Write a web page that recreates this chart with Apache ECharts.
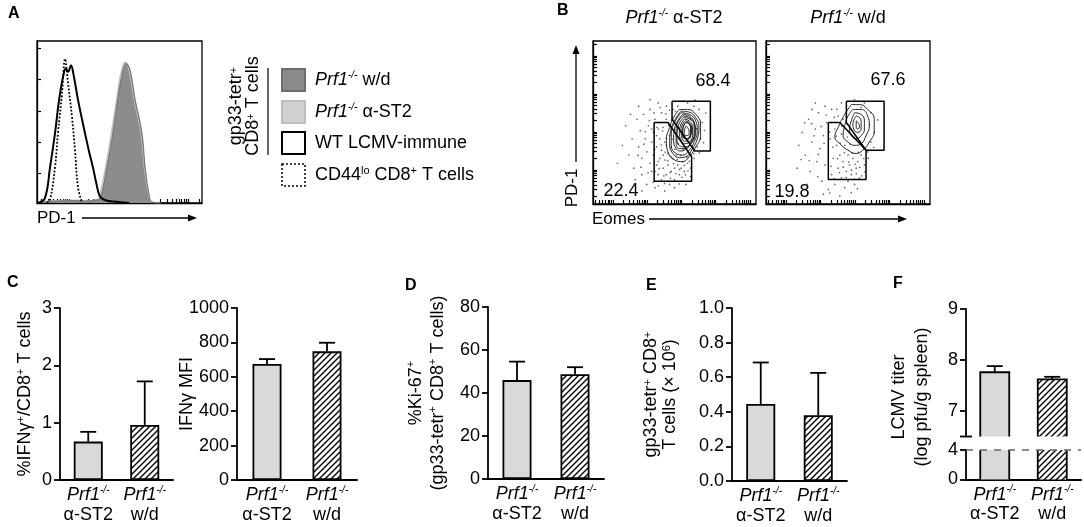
<!DOCTYPE html>
<html>
<head>
<meta charset="utf-8">
<script src="https://cdn.jsdelivr.net/npm/echarts@6/dist/echarts.min.js"></script>
<style>
html, body { margin: 0; padding: 0; background: #fff; }
#main { width: 1084px; height: 527px; }
</style>
</head>
<body>
<div id="main"></div>
<script>
/* ---- data ---- */
var groups = ['α-ST2', 'w/d'];

// C: IFNγ
var ifnPct = [0.67, 0.96];
var ifnPctSem = [0.17, 0.76];
var ifnMfi = [674, 748];
var ifnMfiSem = [29, 50];
// D: Ki-67
var ki67 = [46, 48.7];
var ki67Sem = [8.6, 3.3];
// E: gp33-tetr+ cell numbers (x 10^6)
var tetrCells = [0.445, 0.38];
var tetrCellsSem = [0.24, 0.245];
// F: LCMV titer (log pfu/g)
var lcmvTiter = [7.76, 7.62];
var lcmvTiterSem = [0.12, 0.05];
var lcmvLimit = 4;

// A: PD-1 histograms, [channel, % of max]
var histWd = [[3, 0.5], [12, 1.2], [22, 1.5], [30, 1.2], [36, 1.8], [38.2, 2.5], [42.4, 22], [46, 43], [49, 64], [51.5, 79], [54, 86], [56.4, 82], [59.4, 64], [63.6, 43], [65.5, 22], [67.9, 5], [69.7, 0.5], [75, 0]];
var histAst2 = [[3, 0.8], [12, 1.5], [22, 1.8], [30, 1.5], [36, 2], [37.5, 3], [41.5, 22], [45, 43], [48.2, 64], [50.8, 80], [53.3, 87], [55.5, 83], [58.8, 64], [63, 43], [65, 22], [67.6, 5], [69.5, 0.5], [75, 0]];
var histWt = [[0.6, 0], [4.8, 3], [7.9, 22], [10.9, 43], [13.3, 63], [15.8, 78], [17.5, 83], [18.8, 81], [20.6, 85], [22, 80], [24.8, 64], [27, 53], [29.1, 43], [31.5, 32], [33.9, 22], [36, 12], [38.2, 4], [42, 1.5], [48, 0.8], [56, 0]];
var histCd44lo = [[6, 0], [7.9, 2], [10.9, 22], [12.7, 43], [15.2, 68], [17, 89], [18.8, 74], [21.2, 53], [23, 33], [24.8, 10], [27.3, 0]];

// decade positions of the log-scaled cytometer axes
var decadesA = [19.4, 43.4, 67.4, 91.4];
var countTicksA = [18.5, 37.7, 56.9, 76.1, 95.3];
var decadesEomes = [12.3, 33.3, 54.3, 75.3, 96.3];
var decadesPd1 = [21, 44.3, 67.6, 90.9];

// B: Eomes x PD-1 gates and events
var gateHi1 = [[48.5, 63], [72, 63], [72, 32.5], [62.5, 32.5], [48.5, 52], [48.5, 63]];
var gateLo1 = [[37.5, 50], [46, 50], [60.5, 29], [60.5, 14], [37.5, 14], [37.5, 50]];
var gateHi2 = [[49, 63], [72, 63], [72, 33], [61, 33], [49, 50], [49, 63]];
var gateLo2 = [[38, 50], [45, 50], [61, 33], [61, 15], [38, 15], [38, 50]];
var gatePct = [['68.4', '22.4'], ['67.6', '19.8']];

var dots1 = [[20, 48], [22, 30], [24, 40], [25, 22], [27, 52], [28, 35], [29, 45], [30, 28], [30, 18], [31, 55], [32, 40], [33, 32], [33, 12], [34, 48], [35, 25], [35, 58], [36, 38], [36, 20], [37, 44], [37, 30], [38, 52], [38, 10], [39, 35], [39, 24], [40, 46], [40, 18], [41, 40], [41, 28], [42, 56], [42, 33], [42, 15], [43, 22], [43, 47], [44, 38], [44, 27], [45, 18], [45, 52], [46, 31], [46, 24], [47, 42], [47, 12], [48, 20], [48, 35], [49, 28], [49, 58], [50, 22], [50, 15], [51, 30], [52, 24], [53, 18], [54, 22], [55, 26], [56, 20], [52, 60], [58, 25], [60, 22], [62, 28], [64, 35], [66, 40], [67, 50], [65, 58], [62, 60], [58, 62], [45, 60], [40, 62], [35, 64], [28, 60], [26, 15], [30, 8], [44, 8], [50, 10], [57, 12], [23, 55], [18, 36], [15, 25], [39, 42], [41, 50], [43, 30], [45, 36], [40, 26], [38, 20], [36, 46],
  [37.8, 33.5], [39.2, 47.1], [40.6, 21.7], [41.9, 36.2], [42.7, 44.8], [43.5, 17.3], [44.2, 31.9], [45.1, 40.3], [45.8, 26.6], [46.4, 48.2], [47.3, 19.4], [47.9, 29.1], [48.6, 39.7], [49.4, 24.8], [50.2, 33.6], [50.9, 18.7], [51.7, 27.4], [52.3, 36.9], [53.1, 21.2], [53.8, 29.8], [54.6, 16.4], [55.2, 33.1], [56.1, 23.7], [56.8, 17.9], [57.6, 28.6], [58.3, 20.4], [59.1, 26.2], [59.8, 16.8], [44.6, 55.3], [46.9, 57.6], [48.1, 51.4], [50.6, 56.8], [63.4, 46.2], [65.2, 31.4], [61.7, 30.9], [67.8, 37.6], [68.4, 45.1], [69.2, 55.8], [62.5, 63.7], [55.3, 63.1], [41.2, 59.2], [37.4, 55.9], [34.6, 51.2], [32.1, 44.3], [31.2, 36.7], [29.4, 22.6], [27.6, 29.8], [33.8, 19.1], [36.9, 13.4], [40.1, 11.2], [52.8, 12.3], [47.5, 15.8], [43.9, 12.6]];
var dots2 = [[22, 44], [24, 30], [26, 52], [27, 20], [28, 38], [30, 46], [31, 26], [32, 56], [33, 34], [34, 14], [35, 42], [36, 24], [37, 50], [38, 32], [38, 9], [39, 40], [40, 18], [40, 58], [41, 28], [42, 46], [42, 12], [43, 36], [44, 22], [44, 54], [45, 30], [46, 16], [46, 43], [47, 26], [48, 10], [48, 36], [49, 20], [50, 30], [50, 14], [51, 24], [52, 18], [53, 28], [54, 12], [55, 22], [56, 26], [57, 16], [58, 30], [60, 24], [62, 32], [64, 38], [66, 44], [64, 56], [60, 62], [54, 64], [46, 62], [36, 60], [28, 58], [20, 36], [25, 12], [35, 6], [45, 5], [52, 7], [19, 22], [30, 62], [40, 50], [47, 52],
  [38.7, 44.2], [39.6, 23.1], [40.8, 34.9], [41.5, 15.6], [42.9, 41.7], [43.6, 27.8], [44.8, 19.3], [45.3, 37.4], [46.2, 47.9], [47.1, 22.6], [47.8, 31.5], [48.9, 16.2], [49.6, 41.1], [50.4, 25.7], [51.2, 36.8], [52.1, 20.9], [52.7, 31.3], [53.6, 15.1], [54.4, 24.4], [55.1, 18.6], [56.3, 31.7], [57.2, 22.5], [58.4, 17.3], [59.6, 27.9], [60.2, 19.8], [35.4, 37.2], [33.7, 47.6], [31.9, 30.4], [29.3, 41.8], [27.8, 49.3], [26.4, 26.7], [36.8, 54.6], [41.7, 53.2], [43.2, 58.1], [49.3, 57.4], [57.9, 59.3], [63.1, 48.7], [65.7, 34.8], [62.4, 28.1], [68.1, 51.6], [23.6, 49.8], [21.4, 27.3], [31.6, 16.8], [38.9, 6.9], [55.8, 9.4]];

var contours1 = [
  [[53, 58], [58, 58], [63, 55], [66, 49], [66, 42], [63, 35], [59, 29], [55, 26], [50, 27], [46, 32], [45, 39], [47, 47], [50, 54], [53, 58]],
  [[54, 57], [58.5, 56.5], [63, 53], [65, 47], [64, 40], [61, 34], [57, 29], [53, 28.5], [49, 31], [47, 37], [47.5, 44], [50, 51], [54, 57]],
  [[54, 56], [59, 55], [63, 51], [64, 45], [62, 38], [59, 33], [55, 30], [51, 31], [48, 36], [48, 43], [50, 50], [54, 56]],
  [[55, 55], [59, 54], [62, 50], [63, 44], [61, 39], [58, 35], [54, 32.5], [51, 34], [49.5, 39], [50, 46], [52, 51], [55, 55]],
  [[55, 54], [59, 53], [62, 49], [62, 43], [60, 38], [57, 34], [53, 34], [51, 38], [51, 45], [52, 50], [55, 54]],
  [[55.5, 53], [59.5, 52], [62.5, 48], [62.5, 42.5], [60.5, 37.5], [57, 35], [53.5, 35.5], [51.5, 40], [52, 46.5], [53.5, 50.5], [55.5, 53]],
  [[56, 52], [59, 51], [61, 47], [61, 42], [59, 38], [56, 37], [54, 39], [53, 44], [54, 49], [56, 52]],
  [[56.5, 51], [59, 50], [60.5, 46], [60, 42], [58, 39], [56, 38.5], [54.5, 41], [54, 45], [55, 49], [56.5, 51]],
  [[56.5, 50], [58.8, 49.5], [60, 46], [59.5, 42], [57.5, 40], [55.8, 40.5], [55, 43.5], [55.5, 47.5], [56.5, 50]],
  [[57, 50], [59, 49], [60, 45], [59, 41], [57, 40], [55, 42], [55, 46], [57, 50]],
  [[57, 48], [58, 47], [59, 44], [58, 42], [57, 42], [56, 44], [57, 48]]
];
var contours2 = [
  [[52, 61], [57, 61], [62, 58], [66, 52], [66, 45], [63, 38], [59, 33], [55, 31], [50, 33], [45, 37], [42, 41], [44, 47], [48, 55], [52, 61]],
  [[53, 58], [58, 58], [62, 54], [63, 48], [61, 42], [58, 37], [54, 36], [50, 38], [47, 42], [48, 48], [50, 54], [53, 58]],
  [[54, 56], [58, 55], [60, 51], [60, 46], [58, 42], [55, 40], [52, 42], [51, 46], [52, 51], [54, 56]],
  [[55, 54], [57, 53], [58, 50], [58, 46], [56, 44], [54, 45], [53, 49], [55, 54]],
  [[55, 51], [56, 50], [57, 48], [56, 46], [55, 47], [55, 51]]
];

/* ---- styling ---- */
var FONT = 'Liberation Sans, Arial, Helvetica, sans-serif';
var LW = 1.8;
var BAR_W = 29;

// diagonal hatching for the w/d bars
var hatch = document.createElement('canvas');
hatch.width = 6; hatch.height = 6;
(function () {
  var c = hatch.getContext('2d');
  c.fillStyle = '#fff'; c.fillRect(0, 0, 6, 6);
  c.strokeStyle = '#000'; c.lineWidth = 1.4;
  c.beginPath();
  c.moveTo(-1, 7); c.lineTo(7, -1);
  c.moveTo(-4, 4); c.lineTo(4, -4);
  c.moveTo(2, 10); c.lineTo(10, 2);
  c.stroke();
})();
var barFill = ['#d9d9d9', { image: hatch, repeat: 'repeat' }];

var rich = {
  n: { fontFamily: FONT, fontSize: 18, color: '#000', lineHeight: 20 },
  i: { fontFamily: FONT, fontSize: 18, fontStyle: 'italic', color: '#000', lineHeight: 20 },
  s: { fontFamily: FONT, fontSize: 10, fontStyle: 'italic', color: '#000', lineHeight: 10, verticalAlign: 'top' },
  p: { fontFamily: FONT, fontSize: 11, color: '#000', lineHeight: 10, verticalAlign: 'top' }
};
function richLh(lh) {
  return {
    n: Object.assign({}, rich.n, { lineHeight: lh }),
    i: Object.assign({}, rich.i, { lineHeight: lh }),
    s: rich.s, p: rich.p
  };
}

// log-style tick marks: each decade plus the 2..9 marks before it
function logTicks(decades) {
  var step = decades[1] - decades[0], out = [];
  decades.concat([decades[decades.length - 1] + step]).forEach(function (d) {
    for (var m = 2; m <= 10; m++) {
      var t = d - step + step * Math.log10(m);
      if (t >= 0 && t <= 100) out.push(+t.toFixed(2));
    }
  });
  return out;
}

/* ---- grids ---- */
var box = { show: true, borderColor: '#000', borderWidth: 1.3, backgroundColor: 'transparent' };
var grids = [
  Object.assign({ left: 37, top: 41, width: 165, height: 162 }, box),  // A
  Object.assign({ left: 593, top: 41, width: 163, height: 163 }, box), // B1
  Object.assign({ left: 766, top: 41, width: 164, height: 163 }, box), // B2
  { left: 60, top: 308, width: 113, height: 172 },   // C1
  { left: 237, top: 308, width: 120, height: 172 },  // C2
  { left: 488, top: 307, width: 116, height: 172 },  // D
  { left: 732, top: 308, width: 115, height: 173 },  // E
  { left: 966, top: 309, width: 115, height: 127.5 },// F upper
  { left: 966, top: 450, width: 115, height: 29.5 }  // F lower
];

function flowAxis(idx, ticks) {
  return {
    type: 'value', gridIndex: idx, min: 0, max: 100,
    axisLine: { show: true, onZero: false, lineStyle: { color: '#000', width: 1.3 } },
    axisTick: { show: true, inside: true, length: 4, customValues: ticks, lineStyle: { color: '#000', width: 1.2 } },
    axisLabel: { show: false }, splitLine: { show: false }
  };
}
function catAxis(idx, show) {
  return {
    type: 'category', gridIndex: idx, data: groups, show: show,
    axisTick: { show: false },
    axisLine: { lineStyle: { color: '#000', width: LW } },
    axisLabel: {
      margin: 5, interval: 0,
      formatter: function (v) { return '{i|Prf1}{s|-/-}\n{n|' + v + '}'; },
      rich: rich
    }
  };
}
function valAxis(idx, min, max, interval, name, gap, lh, fmt) {
  var ax = {
    type: 'value', gridIndex: idx, min: min, max: max,
    axisLine: { show: true, lineStyle: { color: '#000', width: LW } },
    axisTick: { show: true, length: 6, lineStyle: { color: '#000', width: LW } },
    axisLabel: { fontFamily: FONT, fontSize: 18, color: '#000', margin: 8,
      formatter: fmt || function (v) { return String(v); } },
    splitLine: { show: false }
  };
  if (interval) ax.interval = interval;
  if (name) {
    ax.name = name; ax.nameLocation = 'middle'; ax.nameRotate = 90; ax.nameGap = gap;
    ax.nameMoveOverlap = false;
    ax.nameTextStyle = { fontFamily: FONT, fontSize: 18, color: '#000', lineHeight: lh, rich: richLh(lh) };
  }
  return ax;
}

var xAxes = [
  flowAxis(0, logTicks(decadesA)), flowAxis(1, logTicks(decadesEomes)), flowAxis(2, logTicks(decadesEomes)),
  catAxis(3, true), catAxis(4, true), catAxis(5, true), catAxis(6, true),
  catAxis(7, false), catAxis(8, true)
];
var fUpper = valAxis(7, 6.5, 9, null, null);
fUpper.axisLabel.customValues = [7, 8, 9];
fUpper.axisTick.customValues = [7, 8, 9];
var fLower = valAxis(8, 0, lcmvLimit, null, null);
fLower.axisLabel.customValues = [0, lcmvLimit];
fLower.axisTick.customValues = [0, lcmvLimit];
var yAxes = [
  flowAxis(0, countTicksA), flowAxis(1, logTicks(decadesPd1)), flowAxis(2, logTicks(decadesPd1)),
  valAxis(3, 0, 3, 1, '{n|%IFNγ}{p|+}{n|/CD8}{p|+}{n| T cells}', 25, 20),
  valAxis(4, 0, 1000, 200, '{n|IFNγ MFI}', 40, 20),
  valAxis(5, 0, 80, 20, '{n|%Ki-67}{p|+}\n{n|(gp33-tetr}{p|+}{n| CD8}{p|+}{n| T cells)}', 39, 22),
  valAxis(6, 0, 1, 0.2, '{n|gp33-tetr}{p|+}{n| CD8}{p|+}\n{n|T cells (× 10}{p|6}{n|)}', 52, 19,
    function (v) { return v.toFixed(1); }),
  fUpper, fLower
];

/* ---- series ---- */
function errorBar(params, api) {
  var mean = api.value(1), sem = api.value(2);
  var p0 = api.coord([api.value(0), mean]);
  var p1 = api.coord([api.value(0), mean + sem]);
  var st = { stroke: '#000', lineWidth: LW };
  return {
    type: 'group', children: [
      { type: 'line', shape: { x1: p0[0], y1: p0[1], x2: p1[0], y2: p1[1] }, style: st },
      { type: 'line', shape: { x1: p1[0] - 8, y1: p1[1], x2: p1[0] + 8, y2: p1[1] }, style: st }
    ]
  };
}
// bar cut by the axis break: open edge where it leaves its segment
function brokenBar(params, api) {
  var cs = params.coordSys;
  var i = api.value(0);
  var p = api.coord([i, api.value(1)]);
  var top = Math.max(p[1], cs.y), bottom = cs.y + cs.height;
  var l = p[0] - BAR_W / 2, r = p[0] + BAR_W / 2;
  var st = { stroke: '#000', lineWidth: LW, fill: null };
  var kids = [{ type: 'rect', shape: { x: l, y: top, width: BAR_W, height: bottom - top }, style: { fill: barFill[i] } }];
  if (p[1] > cs.y) {
    kids.push({ type: 'polyline', shape: { points: [[l, bottom], [l, top], [r, top], [r, bottom]] }, style: st });
  } else {
    kids.push({ type: 'line', shape: { x1: l, y1: top, x2: l, y2: bottom }, style: st });
    kids.push({ type: 'line', shape: { x1: r, y1: top, x2: r, y2: bottom }, style: st });
  }
  return { type: 'group', children: kids };
}
function bars(idx, values) {
  return {
    type: 'bar', xAxisIndex: idx, yAxisIndex: idx, barWidth: BAR_W, z: 3,
    itemStyle: { borderColor: '#000', borderWidth: LW },
    data: values.map(function (v, i) { return { value: v, itemStyle: { color: barFill[i] } }; })
  };
}
function cutBars(idx, values) {
  return {
    type: 'custom', xAxisIndex: idx, yAxisIndex: idx, z: 3, renderItem: brokenBar,
    encode: { x: 0, y: 1 },
    data: values.map(function (v, i) { return [i, v]; })
  };
}
function errors(idx, values, sems) {
  return {
    type: 'custom', xAxisIndex: idx, yAxisIndex: idx, z: 2, renderItem: errorBar,
    encode: { x: 0, y: 1 },
    data: values.map(function (v, i) { return [i, v, sems[i]]; })
  };
}
function histLine(data, color, type, width, area) {
  var s = {
    type: 'line', xAxisIndex: 0, yAxisIndex: 0, data: data, smooth: 0.4, showSymbol: false,
    lineStyle: { color: color, type: type, width: width }
  };
  if (area) s.areaStyle = { color: area, opacity: 1 };
  return s;
}
function flowSeries(idx, dots, rings, hi, lo) {
  var out = [{
    type: 'scatter', xAxisIndex: idx, yAxisIndex: idx, data: dots,
    symbolSize: 1.7, itemStyle: { color: '#444' }
  }];
  rings.forEach(function (r) {
    out.push({
      type: 'line', xAxisIndex: idx, yAxisIndex: idx, data: r, smooth: 0.5, showSymbol: false,
      lineStyle: { color: '#111', width: 0.9 }
    });
  });
  [hi, lo].forEach(function (g) {
    out.push({
      type: 'line', xAxisIndex: idx, yAxisIndex: idx, data: g, showSymbol: false,
      lineStyle: { color: '#000', width: 1.5 }
    });
  });
  return out;
}

var series = [
  histLine(histAst2, '#bdbdbd', 'solid', 1.2, '#cfcfcf'),
  histLine(histWd, '#777', 'solid', 1.2, '#8c8c8c'),
  histLine(histWt, '#000', 'solid', 2, null),
  histLine(histCd44lo, '#000', 'dotted', 1.8, null)
];
series = series.concat(flowSeries(1, dots1, contours1, gateHi1, gateLo1));
series = series.concat(flowSeries(2, dots2, contours2, gateHi2, gateLo2));
series.push(bars(3, ifnPct), errors(3, ifnPct, ifnPctSem));
series.push(bars(4, ifnMfi), errors(4, ifnMfi, ifnMfiSem));
series.push(bars(5, ki67), errors(5, ki67, ki67Sem));
series.push(bars(6, tetrCells), errors(6, tetrCells, tetrCellsSem));
series.push(cutBars(7, lcmvTiter), errors(7, lcmvTiter, lcmvTiterSem));
series.push(cutBars(8, lcmvTiter));
// detection limit
series.push({
  type: 'line', xAxisIndex: 8, yAxisIndex: 8, data: [], showSymbol: false,
  markLine: {
    silent: true, symbol: 'none', label: { show: false },
    lineStyle: { color: '#666', type: [7, 7], width: 1.5 },
    data: [{ yAxis: lcmvLimit }]
  }
});

/* ---- annotations ---- */
var graphics = [];
function label(x, y, text, o) {
  o = o || {};
  graphics.push({
    type: 'text', x: x, y: y, rotation: o.rot || 0, silent: true,
    style: {
      text: text, fontFamily: FONT, fontSize: o.size || 18, fontWeight: o.bold ? 'bold' : 'normal',
      fill: '#000', align: o.align || 'left', verticalAlign: 'middle',
      lineHeight: o.lh || 20, rich: richLh(o.lh || 20)
    }
  });
}
function arrow(x1, y1, x2, y2) {
  var dx = x2 - x1, dy = y2 - y1, len = Math.sqrt(dx * dx + dy * dy);
  var ux = dx / len, uy = dy / len;
  var bx = x2 - ux * 9, by = y2 - uy * 9;
  graphics.push({ type: 'line', silent: true, shape: { x1: x1, y1: y1, x2: bx, y2: by }, style: { stroke: '#000', lineWidth: 1.3 } });
  graphics.push({
    type: 'polygon', silent: true,
    shape: { points: [[x2, y2], [bx - uy * 3.5, by + ux * 3.5], [bx + uy * 3.5, by - ux * 3.5]] },
    style: { fill: '#000' }
  });
}
function swatch(y, fill, stroke, dash, w) {
  graphics.push({
    type: 'rect', silent: true, shape: { x: 282, y: y, width: 23, height: 22 },
    style: { fill: fill, stroke: stroke, lineWidth: w, lineDash: dash }
  });
}

// panel letters
label(8, 14, 'A', { bold: true, size: 16 });
label(557, 11, 'B', { bold: true, size: 16 });
label(7, 283, 'C', { bold: true, size: 16 });
label(405, 286, 'D', { bold: true, size: 16 });
label(646, 286, 'E', { bold: true, size: 16 });
label(893, 284, 'F', { bold: true, size: 16 });

// A
label(37, 218, 'PD-1', { size: 17 });
arrow(82, 218, 197, 218);
label(245, 106, '{n|gp33-tetr}{p|+}\n{n|CD8}{p|+}{n| T cells}', { rot: Math.PI / 2, align: 'center', lh: 17 });
graphics.push({ type: 'line', silent: true, shape: { x1: 268, y1: 68, x2: 268, y2: 155 }, style: { stroke: '#000', lineWidth: 1.2 } });
swatch(69, '#8c8c8c', '#6e6e6e', null, 2);
swatch(101, '#d0d0d0', '#bdbdbd', null, 2);
swatch(132, '#fff', '#000', null, 2);
swatch(164, '#fff', '#000', [2, 2], 1.5);
label(315, 80, '{i|Prf1}{s|-/-}{n| w/d}');
label(315, 112, '{i|Prf1}{s|-/-}{n| α-ST2}');
label(315, 143, 'WT LCMV-immune');
label(315, 175, '{n|CD44}{p|lo}{n| CD8}{p|+}{n| T cells}');

// B
label(674, 18, '{i|Prf1}{s|-/-}{n| α-ST2}', { align: 'center' });
label(848, 18, '{i|Prf1}{s|-/-}{n| w/d}', { align: 'center' });
label(572, 188, 'PD-1', { rot: Math.PI / 2, align: 'center', size: 17 });
arrow(576, 162, 576, 45);
label(592, 219, 'Eomes', { size: 17 });
arrow(649, 219, 907, 219);
label(713, 81, gatePct[0][0], { align: 'center' });
label(621, 191, gatePct[0][1], { align: 'center' });
label(888, 80, gatePct[1][0], { align: 'center' });
label(792, 192, gatePct[1][1], { align: 'center' });

// F
label(911, 397, '{n|LCMV titer}\n{n|(log pfu/g spleen)}', { rot: Math.PI / 2, align: 'center', lh: 23 });
graphics.push({ type: 'line', silent: true, shape: { x1: 960, y1: 436.5, x2: 972, y2: 436.5 }, style: { stroke: '#000', lineWidth: LW } });

var chart = echarts.init(document.getElementById('main'));
chart.setOption({
  animation: false,
  backgroundColor: '#fff',
  textStyle: { fontFamily: FONT },
  grid: grids,
  xAxis: xAxes,
  yAxis: yAxes,
  series: series,
  graphic: graphics
});
</script>
</body>
</html>
